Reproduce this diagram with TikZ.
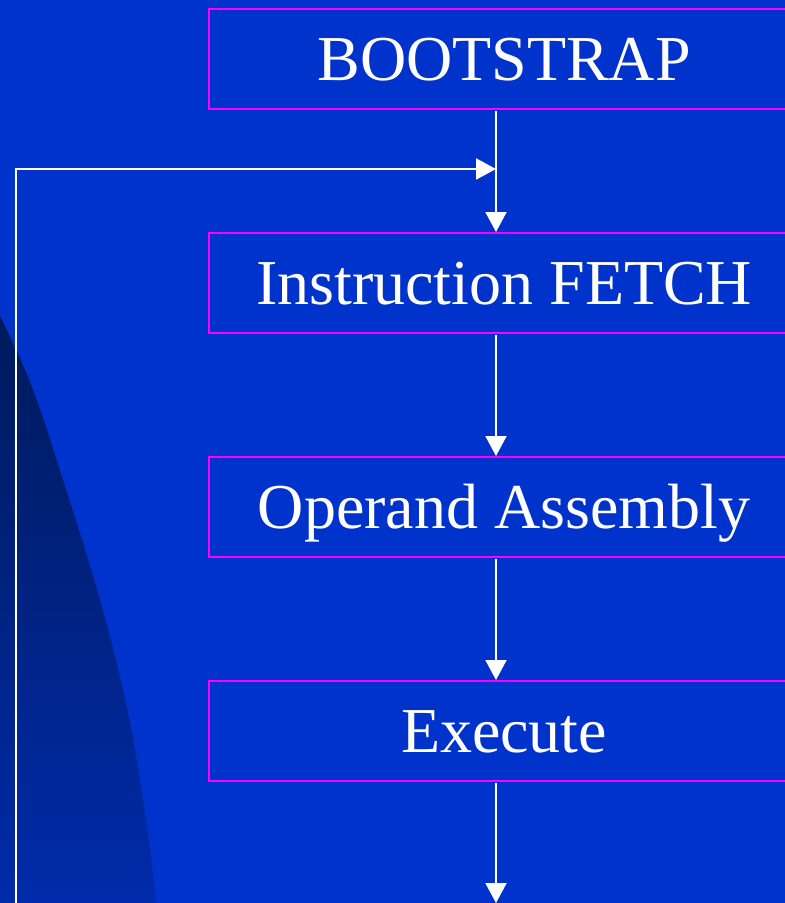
\documentclass[tikz,border=0pt]{standalone}
\usepackage{fontspec}
\setmainfont{Liberation Serif}
\usetikzlibrary{arrows.meta}
\definecolor{bg}{HTML}{0033CC}
\definecolor{darktop}{HTML}{001A5C}
\definecolor{darkbot}{HTML}{002BAA}
\definecolor{mag}{HTML}{FF00FF}
\tikzset{
  stagebox/.style={draw=mag, line width=2.2pt, minimum width=590pt, minimum height=100pt,
    inner sep=0pt, text=white, font=\fontsize{64}{70}\selectfont, text height=42pt, text depth=0pt, anchor=north west},
  flowarrow/.style={draw=white, line width=2pt, -{Triangle[width=21pt,length=20pt]}}
}
\begin{document}
\begin{tikzpicture}[x=1pt,y=-1pt]
\useasboundingbox (0,0) rectangle (785,903);
\fill[bg] (0,0) rectangle (785,903);
\begin{scope}
\clip (0,903) -- plot[smooth, tension=0.6] coordinates {(0,316) (32,387) (63,480) (100,600) (128,713) (147,827) (156,903)} -- cycle;
\shade[top color=darktop, bottom color=darkbot] (0,316) rectangle (160,903);
\end{scope}
\node[stagebox] (b1) at (208,8) {BOOTSTRAP};
\node[stagebox] (b2) at (208,232) {Instruction FETCH};
\node[stagebox] (b3) at (208,456) {Operand Assembly};
\node[stagebox] (b4) at (208,680) {Execute};
\coordinate (ax) at (496,0);
\coordinate (join) at (496,169);
\coordinate (endp) at (496,903);
\coordinate (loopb) at (16,904);
\coordinate (loopt) at (16,169);
\draw[flowarrow] ([yshift=-1pt]b1.south -| ax) -- (b2.north -| ax);
\draw[flowarrow] ([yshift=-1pt]b2.south -| ax) -- (b3.north -| ax);
\draw[flowarrow] ([yshift=-1pt]b3.south -| ax) -- (b4.north -| ax);
\draw[flowarrow] ([yshift=-1pt]b4.south -| ax) -- (endp);
\draw[flowarrow] (loopb) -- (loopt) -- (join);
\end{tikzpicture}
\end{document}
